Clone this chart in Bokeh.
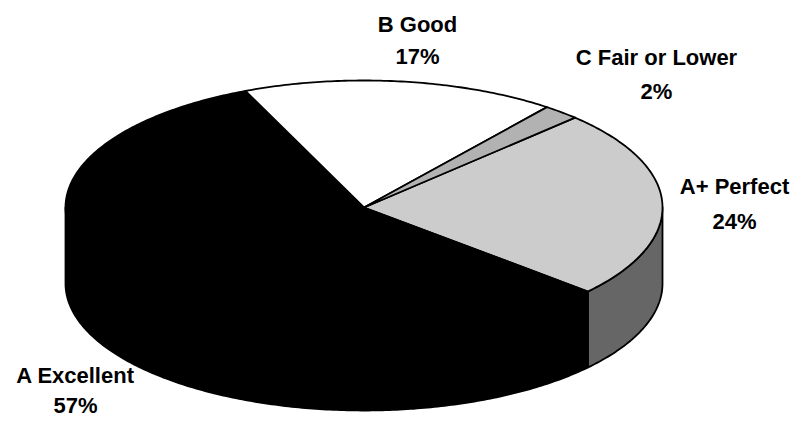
import numpy as np
from bokeh.plotting import figure
from bokeh.models import Range1d, ColumnDataSource
from bokeh.core.properties import value
from bokeh.embed import file_html
from bokeh.resources import INLINE

# ---- data ----
categories = ["A+ Perfect", "A Excellent", "B Good", "C Fair or Lower"]
values = [24, 57, 17, 2]
top_colors = ["#CCCCCC", "#000000", "#FFFFFF", "#B2B2B2"]
side_colors = ["#666666", "#000000", "#999999", "#808080"]

# ---- layout (pixel-like units) ----
W, H = 799, 421
cx, cy = 363.5, 207.0
a, b = 298.5, 127.0
depth = 76.0
start_deg = 45.0  # first slice angle, slices go clockwise

label_x = [734, 75, 417, 656]
label_y = [186, 375, 24, 57]
label_gap = [35, 30, 32, 34]

p = figure(width=W, height=H, output_backend="svg", toolbar_location=None,
           x_range=Range1d(0, W), y_range=Range1d(H, 0),
           min_border=0, outline_line_color=None)
p.axis.visible = False
p.grid.visible = False
p.background_fill_color = "white"
p.border_fill_color = "white"

total = float(sum(values))
bounds = [start_deg]
for v in values:
    bounds.append(bounds[-1] - 360.0 * v / total)


def arc(t1, t2, n=None, dy=0.0):
    if n is None:
        n = max(2, int(abs(t2 - t1) * 1.5))
    t = np.radians(np.linspace(t1, t2, n))
    return cx + a * np.cos(t), cy - b * np.sin(t) + dy


# side faces (front half: angles in [-180, 0] mod 360)
side_xs, side_ys, side_fill = [], [], []
for i in range(len(values)):
    s, e = bounds[i], bounds[i + 1]  # s > e
    for k in (-1, 0, 1):
        lo, hi = -180.0 + 360 * k, 0.0 + 360 * k
        t_hi, t_lo = min(s, hi), max(e, lo)
        if t_hi > t_lo:
            x1, y1 = arc(t_hi, t_lo)
            x2, y2 = arc(t_lo, t_hi, dy=depth)
            side_xs.append(list(np.concatenate([x1, x2])))
            side_ys.append(list(np.concatenate([y1, y2])))
            side_fill.append(side_colors[i])

p.patches(xs=side_xs, ys=side_ys, fill_color=side_fill, line_color="black",
          line_width=1.8, line_join="round")

# top faces
top_xs, top_ys = [], []
for i in range(len(values)):
    x, y = arc(bounds[i], bounds[i + 1])
    top_xs.append([cx] + list(x))
    top_ys.append([cy] + list(y))

p.patches(xs=top_xs, ys=top_ys, fill_color=top_colors, line_color="black",
          line_width=1.8, line_join="round")

# labels
names_src = ColumnDataSource(dict(x=label_x, y=label_y, t=categories))
pct_src = ColumnDataSource(dict(x=label_x,
                                y=[y + g for y, g in zip(label_y, label_gap)],
                                t=[f"{v}%" for v in values]))
for src in (names_src, pct_src):
    p.text(x="x", y="y", text="t", source=src, text_align="center",
           text_baseline="middle", text_font=value("Liberation Sans"),
           text_font_style="bold", text_font_size="22px", text_color="black")

open("out.html", "w").write(file_html(p, INLINE))
